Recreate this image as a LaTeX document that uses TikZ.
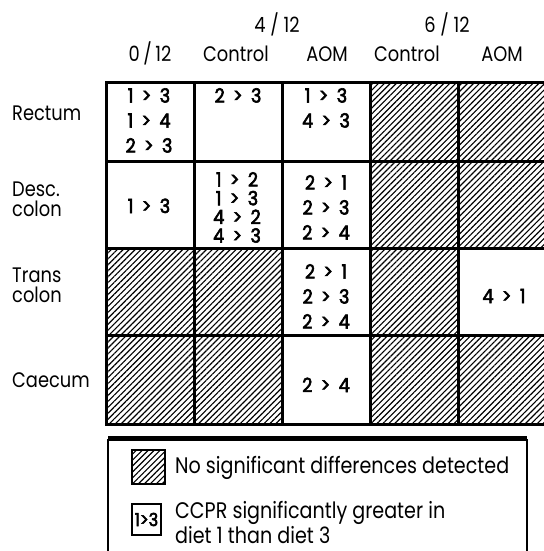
\documentclass[tikz,border=0pt]{standalone}
\usepackage{fontspec}
\setmainfont[FakeStretch=0.85]{Poppins}
\newfontfamily\cellfont[FakeStretch=0.9,FakeBold=3,WordSpace=1.8]{Poppins}
\usetikzlibrary{positioning, patterns.meta}

\begin{document}
\begin{tikzpicture}[x=1pt, y=-1pt,
    lbl/.style = {font=\fontsize{21}{19.5}\selectfont, inner sep=0pt, anchor=base},
    keylbl/.style = {font=\fontsize{22.5}{25}\selectfont, inner sep=0pt, anchor=west, align=left},
    rowlbl/.style = {lbl, anchor=north west, align=left},
    cell/.style = {font=\cellfont\fontsize{19.5}{25}\selectfont, inner sep=0pt, align=center},
    hatched/.style = {pattern={Lines[angle=45, distance=4.2pt, line width=1.15pt]}},
    gridline/.style = {line width=3pt, line cap=rect}]
\useasboundingbox (0,0) rectangle (543,551);
\def\colx{{106,194,282,370,458,547}}
\def\rowy{{82,161,248,335,424}}
% cells with no significant differences
\foreach \c/\r in {4/1,5/1,4/2,5/2,1/3,2/3,4/3,1/4,2/4,4/4,5/4} {
    \pgfmathsetmacro\xa{\colx[\c-1]}
    \pgfmathsetmacro\xb{\colx[\c]}
    \pgfmathsetmacro\ya{\rowy[\r-1]}
    \pgfmathsetmacro\yb{\rowy[\r]}
    \fill[hatched] (\xa,\ya) rectangle (\xb,\yb);
}
% grid
\foreach \x in {106,194,282,370,458,547} \draw[gridline] (\x,82) -- (\x,424);
\foreach \y in {82,161,248,335,424} \draw[gridline] (106,\y) -- (547,\y);

% column heads
\node[lbl] (diet4) at (277,33) {4 / 12};
\node[lbl] (diet6) at (447,33) {6 / 12};
\node[lbl] (diet0) at (150,62) {0\,/\,12};
\node[lbl] (ctrl4) at (236,62) {Control};
\node[lbl] (aom4) at (327,62) {AOM};
\node[lbl] (ctrl6) at (407,62) {Control};
\node[lbl] (aom6) at (502,62) {AOM};

% row heads
\node[lbl, anchor=base west] (rectum) at (12,120) {Rectum};
\node[rowlbl] (desc) at (12,182) {Desc.\\colon};
\node[rowlbl] (trans) at (12,268) {Trans\\colon};
\node[lbl, anchor=base west] (caecum) at (12,387) {Caecum};

% significant differences
\node[cell, anchor=north] (r1c1) at (149,88) {1 > 3\\1 > 4\\2 > 3};
\node[cell, anchor=north] (r1c2) at (238,88) {2 > 3};
\node[cell, anchor=north] (r1c3) at (326,88) {1 > 3\\4 > 3};
\node[cell, anchor=base] (r2c1) at (149,213) {1 > 3};
\node[cell, anchor=north, font=\cellfont\fontsize{19.5}{18.7}\selectfont] (r2c2) at (237,172) {1 > 2\\1 > 3\\4 > 2\\4 > 3};
\node[cell, anchor=north] (r2c3) at (326,175) {2 > 1\\2 > 3\\2 > 4};
\node[cell, anchor=north] (r3c3) at (326,264) {2 > 1\\2 > 3\\2 > 4};
\node[cell, anchor=base] (r3c5) at (504,303) {4 > 1};
\node[cell, anchor=base] (r4c3) at (326,392) {2 > 4};

% key
\draw[line width=2pt] (108,560) -- (108,440) -- (527,440) -- (527,560);
\draw[line width=4pt] (108,438) -- (527,438);
\draw[line width=2.5pt, hatched] (132,450) rectangle (165,484);
\node[keylbl] (keyns) at (175,468) {No significant differences detected};
\node[draw, line width=2pt, minimum width=29pt, minimum height=31pt, inner sep=0pt,
      font=\cellfont\fontsize{18}{18}\selectfont] (keybox) at (146.5,519.5) {1>3};
\node[keylbl] (keysig) at (175,522) {CCPR significantly greater in\\diet 1 than diet 3};
\end{tikzpicture}
\end{document}
